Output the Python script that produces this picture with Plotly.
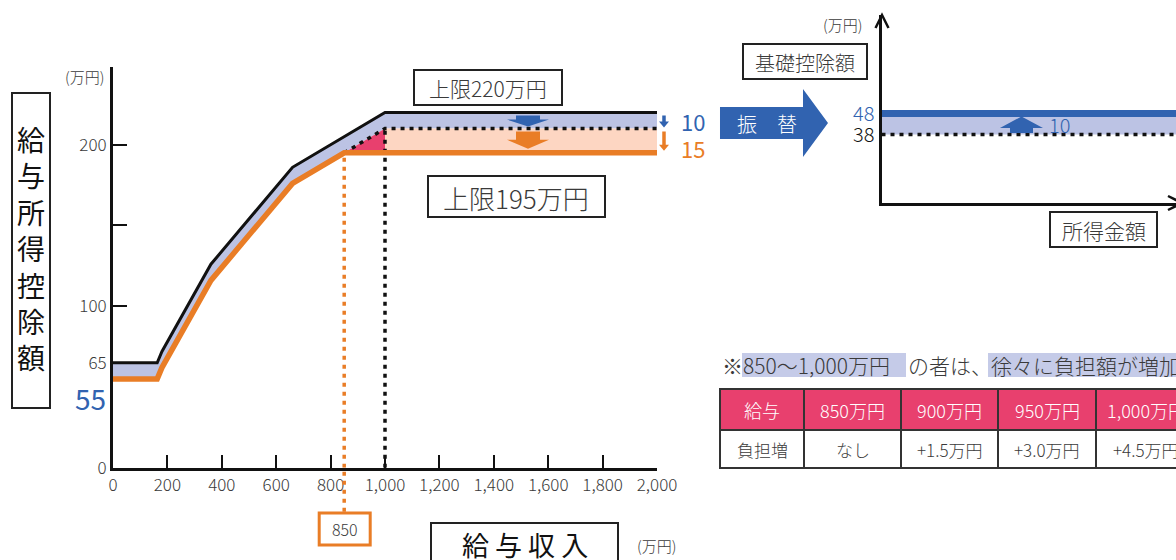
import plotly.graph_objects as go

# 給与収入 (万円) と給与所得控除額 (万円): 改正前・改正後
old_x = [0, 162.5, 180, 360, 660, 1000, 2000]
old_y = [65, 65, 72, 126, 186, 220, 220]
new_x = [0, 162.5, 180, 360, 660, 850, 2000]
new_y = [55, 55, 62, 116, 176, 195, 195]
# 改正前から一律10万円を引いた水準 (850万円超の部分)
mid_x = [850, 1000, 2000]
mid_y = [195, 210, 210]

x_ticks = [0, 200, 400, 600, 800, 1000, 1200, 1400, 1600, 1800, 2000]
x_tick_labels = ["0", "200", "400", "600", "800", "1,000", "1,200", "1,400", "1,600", "1,800", "2,000"]
y_ticks = [0, 65, 100, 150, 200]
y_tick_labels = ["0", "65", "100", "", "200"]

# 基礎控除額 (万円)
basic_x = [0, 100]
basic_old = [38, 38]
basic_new = [48, 48]

# 850~1,000万円の負担増
table_header = ["給与", "850万円", "900万円", "950万円", "1,000万円"]
table_row = ["負担増", "なし", "+1.5万円", "+3.0万円", "+4.5万円"]

W, H = 1176, 560
FONT = "Noto Sans CJK JP"
BLUE = "#3163B0"
BAND = "#BCC3E4"
PEACH = "#FDD6C2"
PINK = "#E8406E"
ORANGE = "#E97D26"
MARK = "#C5CBE8"
TXT = "#3a3a3a"
LIGHT = 300

# left chart pixel geometry
LX0, LX1 = 113, 657
LY0, PPU = 467.7, 1.615
Y_TOP = 248


def px(x):
    return x / W


def py(y):
    return 1 - y / H


def X(v):
    return LX0 + (LX1 - LX0) * v / 2000


def Y(v):
    return LY0 - PPU * v


def path(points):
    return "M " + " L ".join(f"{px(a):.5f},{py(b):.5f}" for a, b in points) + " Z"


def down_arrow(cx, top, bottom, stem_w, head_w, head_len):
    hy = bottom - head_len
    return [(cx - stem_w / 2, top), (cx + stem_w / 2, top), (cx + stem_w / 2, hy),
            (cx + head_w / 2, hy), (cx, bottom), (cx - head_w / 2, hy), (cx - stem_w / 2, hy)]


fig = go.Figure()

# blue band between old curve and (new / old-10) curve
lower_x = [x for x in new_x if x <= mid_x[0]] + mid_x[1:]
lower_y = [y for x, y in zip(new_x, new_y) if x <= mid_x[0]] + mid_y[1:]
fig.add_trace(go.Scatter(x=old_x + lower_x[::-1], y=old_y + lower_y[::-1], fill="toself",
                         fillcolor=BAND, line=dict(width=0), mode="lines", hoverinfo="skip"))
# peach band above the new cap
fig.add_trace(go.Scatter(x=[mid_x[1], mid_x[2], mid_x[2], mid_x[1]],
                         y=[mid_y[1], mid_y[2], new_y[-1], new_y[-1]], fill="toself",
                         fillcolor=PEACH, line=dict(width=0), mode="lines", hoverinfo="skip"))
# pink triangle 850~1,000
fig.add_trace(go.Scatter(x=[mid_x[0], mid_x[1], mid_x[1]], y=[mid_y[0], mid_y[1], new_y[-1]],
                         fill="toself", fillcolor=PINK, line=dict(width=0), mode="lines",
                         hoverinfo="skip"))
# dotted old-10 line and guides at 850 / 1,000
fig.add_trace(go.Scatter(x=mid_x, y=mid_y, mode="lines",
                         line=dict(color="#111", width=3.5, dash="4px,5px"), hoverinfo="skip"))
fig.add_trace(go.Scatter(x=[mid_x[1], mid_x[1]], y=[0, mid_y[1]], mode="lines",
                         line=dict(color="#111", width=3.5, dash="4px,5px"), hoverinfo="skip"))
fig.add_trace(go.Scatter(x=[mid_x[0], mid_x[0]], y=[0, mid_y[0]], mode="lines",
                         line=dict(color=ORANGE, width=3.5, dash="4px,5px"), hoverinfo="skip"))
# old and new curves
fig.add_trace(go.Scatter(x=old_x, y=old_y, mode="lines",
                         line=dict(color="#111", width=3), hoverinfo="skip"))
fig.add_trace(go.Scatter(x=new_x, y=new_y, mode="lines",
                         line=dict(color=ORANGE, width=5.5), hoverinfo="skip"))

# right panel: basic deduction 38 -> 48
fig.add_trace(go.Scatter(x=basic_x, y=basic_old, mode="lines", line=dict(width=0),
                         xaxis="x2", yaxis="y2", hoverinfo="skip"))
fig.add_trace(go.Scatter(x=basic_x, y=basic_new, mode="lines", line=dict(width=0),
                         fill="tonexty", fillcolor=BAND, xaxis="x2", yaxis="y2", hoverinfo="skip"))
fig.add_trace(go.Scatter(x=basic_x, y=basic_old, mode="lines",
                         line=dict(color="#111", width=3.5, dash="4px,5px"),
                         xaxis="x2", yaxis="y2", hoverinfo="skip"))
fig.add_trace(go.Scatter(x=basic_x, y=basic_new, mode="lines", line=dict(color=BLUE, width=7),
                         xaxis="x2", yaxis="y2", hoverinfo="skip"))

shapes = []
annotations = []


def rect(x0, y0, x1, y1, color="#222", width=2, fill="white"):
    shapes.append(dict(type="rect", xref="paper", yref="paper", x0=px(x0), x1=px(x1),
                       y0=py(y1), y1=py(y0), line=dict(color=color, width=width),
                       fillcolor=fill, layer="above"))


def text(t, x, y, size, color=TXT, xanchor="center", yanchor="middle", weight=LIGHT):
    annotations.append(dict(text=t, x=px(x), y=py(y), xref="paper", yref="paper",
                            showarrow=False, xanchor=xanchor, yanchor=yanchor, borderpad=0,
                            font=dict(family=FONT, size=size, color=color, weight=weight)))


def poly(points, color):
    shapes.append(dict(type="path", xref="paper", yref="paper", path=path(points),
                       fillcolor=color, line=dict(width=0), layer="above"))


# orange guide below the axis down to the 850 box
shapes.append(dict(type="line", xref="paper", yref="paper", x0=px(X(850)), x1=px(X(850)),
                   y0=py(LY0 + 4), y1=py(513), line=dict(color=ORANGE, width=3.5, dash="4px,5px")))

# block arrows inside the bands
poly(down_arrow(528, Y(220) + 3, Y(210) - 2, 24, 42, 7), BLUE)
poly(down_arrow(528, Y(210) + 3, Y(195) - 4, 24, 42, 9), ORANGE)
poly(down_arrow(664, Y(220) + 3, Y(210) - 1, 3.5, 10, 6), BLUE)
poly(down_arrow(664, Y(210) + 3, Y(195) - 2, 3.5, 10, 6), ORANGE)
text("10", 693, 121, 22, BLUE, weight=400)
text("15", 693, 148, 22, ORANGE, weight=400)

# labelled boxes on the left chart
rect(414, 70, 562, 105)
text("上限220万円", 488, 88, 21)
rect(428, 176, 605, 217)
text("上限195万円", 516, 197, 26)
rect(12, 93, 50, 408)
text("<br>".join("給与所得控除額"), 31, 248, 28, "#111", weight=400)
text("55", 90, 398, 28, BLUE, weight=400)
text("(万円)", 84, 77, 15)
rect(X(850) - 25, 513, X(850) + 26, 545, ORANGE, 3)
text("850", X(850) + 0.5, 529, 16)
rect(431, 523, 618, 575)
text("給 与 収 入", 525, 544, 27, "#111", weight=400)
text("(万円)", 656, 545, 15)

# transfer arrow
poly([(720, 107), (803, 107), (803, 89), (828, 123), (803, 157), (803, 139), (720, 139)], BLUE)
text("振　替", 767, 123, 20, "white")

# right panel decorations
shapes.append(dict(type="path", xref="paper", yref="paper",
                   path=f"M {px(875.5)},{py(28)} L {px(882)},{py(15)} L {px(888.5)},{py(28)}",
                   line=dict(color="#111", width=2.5)))
shapes.append(dict(type="path", xref="paper", yref="paper",
                   path=f"M {px(1168)},{py(196)} L {px(1182)},{py(203)} L {px(1168)},{py(210)}",
                   line=dict(color="#111", width=2.5)))
poly([(1010, 133), (1033, 133), (1033, 128), (1043, 128), (1021.5, 116.5), (1000, 128), (1010, 128)], BLUE)
text("10", 1059, 125, 20, BLUE)
text("(万円)", 842, 25, 15)
rect(743, 44, 867, 79)
text("基礎控除額", 805, 62, 20)
rect(1050, 212, 1157, 247)
text("所得金額", 1103.5, 230, 21)

# note line with highlighted phrases
for x0, x1 in [(742, 906), (988, 1180)]:
    shapes.append(dict(type="rect", xref="paper", yref="paper", x0=px(x0), x1=px(x1),
                       y0=py(377), y1=py(353), line=dict(width=0), fillcolor=MARK, layer="below"))
text("※850〜1,000万円", 721, 365, 21, xanchor="left")
text("の者は、", 907, 365, 21, xanchor="left")
text("徐々に負担額が増加", 990, 365, 21, xanchor="left")

# table of burden increases
col_edges = [720, 804, 901, 998, 1096, 1196]
row_edges = [389, 430, 468]
for i in range(len(table_header)):
    x0, x1 = col_edges[i], col_edges[i + 1]
    rect(x0, row_edges[0], x1, row_edges[1], "#333", 2, PINK)
    rect(x0, row_edges[1], x1, row_edges[2], "#333", 2, "white")
    text(table_header[i], (x0 + x1) / 2, (row_edges[0] + row_edges[1]) / 2, 18, "white")
    text(table_row[i], (x0 + x1) / 2, (row_edges[1] + row_edges[2]) / 2, 17)

tick_font = dict(size=17, color=TXT, family=FONT, weight=LIGHT)
fig.update_layout(
    width=W, height=H, margin=dict(l=0, r=0, t=0, b=0, pad=0, autoexpand=False),
    paper_bgcolor="white", plot_bgcolor="rgba(0,0,0,0)", showlegend=False,
    font=dict(family=FONT, color=TXT),
    xaxis=dict(domain=[px(LX0), px(LX1)], range=[0, 2000], anchor="y", automargin=False,
               tickvals=x_ticks, ticktext=x_tick_labels, ticks="inside", ticklen=13,
               tickwidth=2, tickcolor="#111", showline=True, linewidth=3, linecolor="#111",
               showgrid=False, zeroline=False, tickfont=tick_font),
    yaxis=dict(domain=[py(LY0), py(Y(Y_TOP))], range=[0, Y_TOP], anchor="x", automargin=False,
               tickvals=y_ticks, ticktext=y_tick_labels, ticks="inside", ticklen=14,
               tickwidth=2, tickcolor="#111", showline=True, linewidth=3, linecolor="#111",
               showgrid=False, zeroline=False, tickfont=tick_font),
    xaxis2=dict(domain=[px(881.5), 1], range=basic_x, anchor="y2", automargin=False,
                showline=True, linewidth=3, linecolor="#111", showgrid=False, zeroline=False,
                showticklabels=False, ticks=""),
    yaxis2=dict(domain=[py(203), py(15)], range=[5.4, 94.9], anchor="x2", automargin=False,
                showline=True, linewidth=3, linecolor="#111", showgrid=False, zeroline=False,
                ticks="", tickvals=[basic_old[0], basic_new[0]],
                ticktext=[str(basic_old[0]), f'<span style="color:{BLUE}">{basic_new[0]}</span>'],
                tickfont=dict(size=20, color="#111", family=FONT, weight=LIGHT)),
    shapes=shapes, annotations=annotations,
)

fig.write_html("out.html")
